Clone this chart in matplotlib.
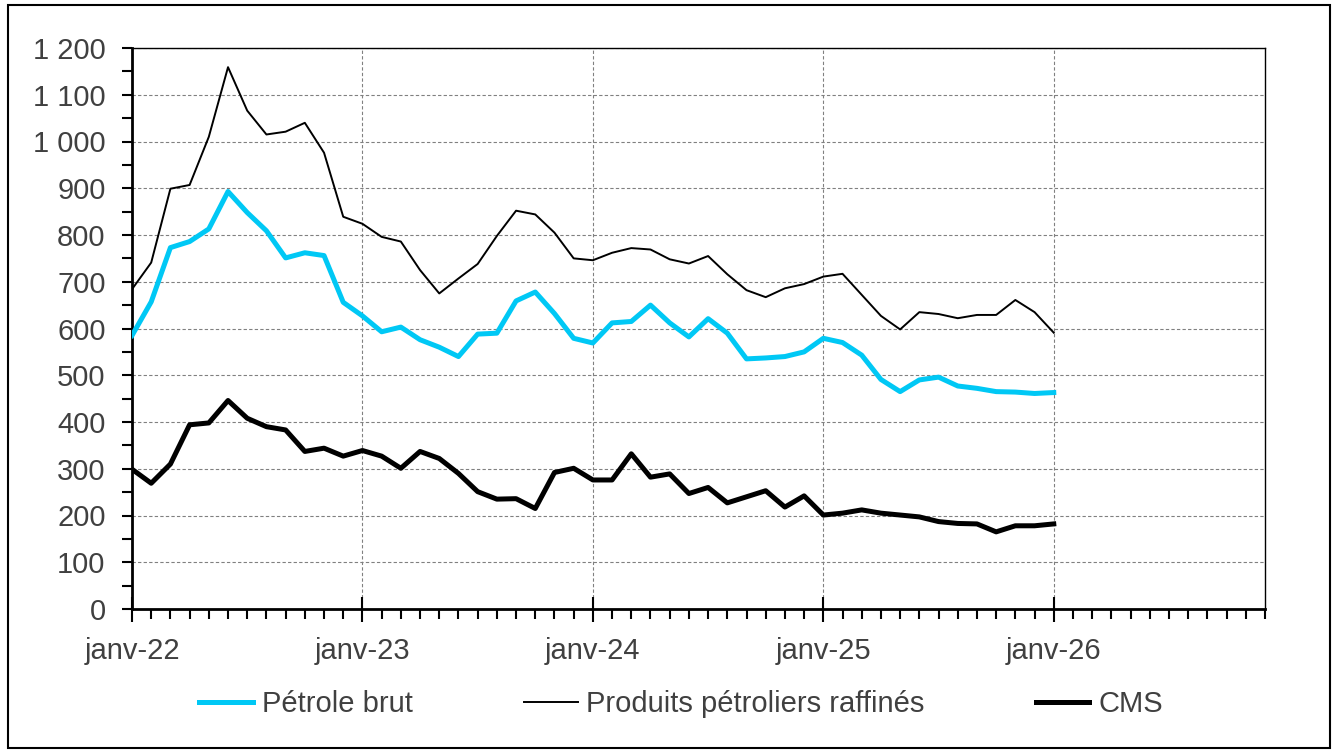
import numpy as np
import matplotlib
matplotlib.use("Agg")
import matplotlib.pyplot as plt
from matplotlib.ticker import MultipleLocator, FuncFormatter
from matplotlib.patches import Rectangle

plt.rcParams['font.family'] = ['Liberation Sans', 'DejaVu Sans']

# mensuel, janv-22 -> janv-26
months = np.arange(49)
petrole_brut = [585, 657, 773, 786, 813, 893, 848, 809, 751, 762, 756, 656,
                627, 593, 603, 576, 560, 540, 588, 590, 659, 678, 632, 579,
                569, 612, 615, 650, 612, 582, 621, 590, 535, 537, 540, 550,
                579, 570, 543, 491, 465, 490, 496, 477, 472, 465, 464, 461,
                463]
produits_raffines = [684, 741, 899, 907, 1010, 1159, 1066, 1015, 1021, 1040, 976, 839,
                     824, 796, 786, 725, 675, 707, 738, 798, 852, 844, 805, 750,
                     746, 762, 772, 769, 748, 739, 755, 716, 682, 667, 686, 695,
                     711, 717, 672, 627, 598, 635, 631, 622, 629, 629, 661, 635,
                     591]
cms = [299, 269, 310, 394, 398, 446, 408, 390, 383, 337, 344, 327,
       339, 327, 301, 337, 322, 290, 251, 235, 236, 215, 292, 301,
       276, 276, 332, 282, 289, 247, 260, 227, 240, 253, 218, 242,
       201, 205, 212, 205, 201, 197, 187, 183, 182, 165, 178, 178,
       182]
year_labels = ['janv-22', 'janv-23', 'janv-24', 'janv-25', 'janv-26']

txt = '#404040'
fig = plt.figure(figsize=(13.37, 7.51), dpi=100)
ax = fig.add_axes([132 / 1337, 1 - 609 / 751, (1265 - 132) / 1337, (609 - 48) / 751])

ax.plot(months, petrole_brut, color='#00C8F5', lw=3.6, label='Pétrole brut', zorder=3)
ax.plot(months, produits_raffines, color='black', lw=1.4, label='Produits pétroliers raffinés', zorder=3)
ax.plot(months, cms, color='black', lw=3.6, label='CMS', zorder=3)

ax.set_xlim(0, 59)
ax.set_ylim(0, 1200)

ax.set_xticks([0, 12, 24, 36, 48])
ax.set_xticklabels(year_labels)
ax.xaxis.set_minor_locator(MultipleLocator(1))
ax.yaxis.set_major_locator(MultipleLocator(100))
ax.yaxis.set_minor_locator(MultipleLocator(50))
ax.yaxis.set_major_formatter(FuncFormatter(lambda v, p: f'{int(v):,}'.replace(',', ' ')))

ax.tick_params(axis='x', which='major', direction='inout', length=18, width=1.5,
               labelsize=21, labelcolor=txt, pad=11)
ax.tick_params(axis='x', which='minor', direction='out', length=7, width=1.5)
ax.tick_params(axis='y', which='both', direction='out', length=7, width=1.5,
               labelsize=21, labelcolor=txt, pad=12)

ax.grid(True, which='major', color='#808080', lw=0.8, ls=(0, (3, 2)))
ax.set_axisbelow(True)
for s in ax.spines.values():
    s.set_linewidth(1.0)
ax.spines['left'].set_linewidth(2)
ax.spines['bottom'].set_linewidth(2)

fig.legend(loc='center', bbox_to_anchor=(681 / 1337, 1 - 704 / 751), ncol=3, frameon=False,
           fontsize=21, labelcolor=txt, handlelength=1.85, columnspacing=3.8,
           handletextpad=0.3)

fig.patches.append(Rectangle((8 / 1337, 3 / 751), 1322 / 1337, 743 / 751,
                             transform=fig.transFigure, fill=False, ec='black', lw=1.5))

fig.savefig('out.png', dpi=100)
